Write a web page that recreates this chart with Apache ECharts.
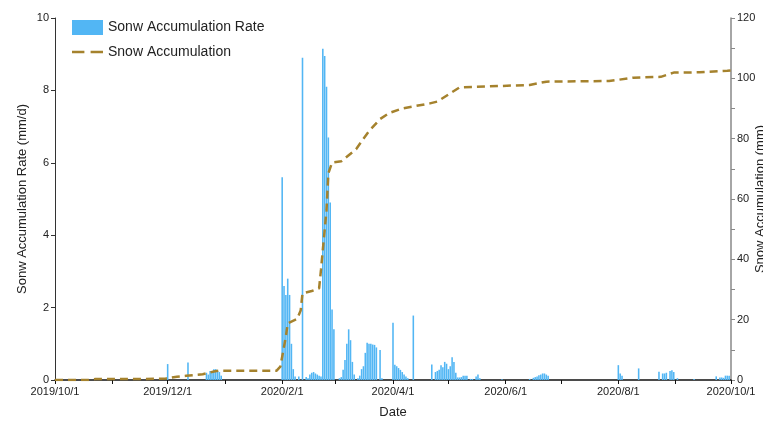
<!DOCTYPE html>
<html>
<head>
<meta charset="utf-8">
<script src="https://cdn.jsdelivr.net/npm/echarts@6/dist/echarts.min.js"></script>
<style>
  html, body { margin: 0; padding: 0; background: #fff; }
  #chart { width: 763px; height: 421px; }
</style>
</head>
<body>
<div id="chart"></div>
<script>
// days on the axis: 2019/10/1 .. 2020/10/1
const startDay = new Date(2019, 9, 1)
const endDay = new Date(2020, 9, 1)
const dates = []
for (let d = new Date(startDay); d <= endDay; d.setDate(d.getDate() + 1)) {
  dates.push(d.getFullYear() + '/' + (d.getMonth() + 1) + '/' + d.getDate())
}

const labelDates = ['2019/10/1', '2019/12/1', '2020/2/1', '2020/4/1', '2020/6/1', '2020/8/1', '2020/10/1']
const rateTicks = [0, 2, 4, 6, 8, 10]
const accTicks = [0, 20, 40, 60, 80, 100, 120]

// Sonw Accumulation Rate (mm/d), days with snow
const rateDates = [
  '2019/12/1', '2019/12/12', '2019/12/22', '2019/12/23', '2019/12/24', '2019/12/25', '2019/12/26',
  '2019/12/27', '2019/12/28', '2019/12/29', '2019/12/30',
  '2020/2/1', '2020/2/2', '2020/2/3', '2020/2/4', '2020/2/5', '2020/2/6', '2020/2/7', '2020/2/8',
  '2020/2/10', '2020/2/12', '2020/2/14', '2020/2/15', '2020/2/16', '2020/2/17', '2020/2/18',
  '2020/2/19', '2020/2/20', '2020/2/21', '2020/2/22', '2020/2/23', '2020/2/24', '2020/2/25',
  '2020/2/26', '2020/2/27', '2020/2/28', '2020/2/29',
  '2020/3/3', '2020/3/4', '2020/3/5', '2020/3/6', '2020/3/7', '2020/3/8', '2020/3/9', '2020/3/10',
  '2020/3/11', '2020/3/13', '2020/3/14', '2020/3/15', '2020/3/16', '2020/3/17', '2020/3/18',
  '2020/3/19', '2020/3/20', '2020/3/21', '2020/3/22', '2020/3/23', '2020/3/25', '2020/3/26',
  '2020/4/1', '2020/4/2', '2020/4/3', '2020/4/4', '2020/4/5', '2020/4/6', '2020/4/7', '2020/4/8',
  '2020/4/9', '2020/4/12',
  '2020/4/22', '2020/4/24', '2020/4/25', '2020/4/26', '2020/4/27', '2020/4/28', '2020/4/29',
  '2020/4/30', '2020/5/1', '2020/5/2', '2020/5/3', '2020/5/4', '2020/5/5', '2020/5/6', '2020/5/7',
  '2020/5/8', '2020/5/9', '2020/5/10', '2020/5/11', '2020/5/13', '2020/5/14', '2020/5/16',
  '2020/5/17', '2020/5/18', '2020/5/30',
  '2020/6/14', '2020/6/16', '2020/6/17', '2020/6/18', '2020/6/19', '2020/6/20', '2020/6/21',
  '2020/6/22', '2020/6/23', '2020/6/24',
  '2020/8/1', '2020/8/2', '2020/8/3', '2020/8/12', '2020/8/23', '2020/8/25', '2020/8/26',
  '2020/8/27', '2020/8/29', '2020/8/30', '2020/8/31', '2020/9/2', '2020/9/11', '2020/9/23',
  '2020/9/25', '2020/9/26', '2020/9/27', '2020/9/28', '2020/9/29', '2020/9/30'
]
const rateValues = [
  0.44, 0.48, 0.2, 0.15, 0.25, 0.22, 0.3,
  0.3, 0.25, 0.22, 0.12,
  5.6, 2.6, 2.35, 2.8, 2.35, 1.0, 0.3, 0.1,
  0.1, 8.9, 0.08, 0.05, 0.15, 0.2, 0.22,
  0.18, 0.15, 0.12, 0.1, 9.15, 8.95, 8.1,
  6.7, 4.9, 1.95, 1.4,
  0.05, 0.08, 0.28, 0.55, 1.0, 1.4, 1.1, 0.5,
  0.15, 0.05, 0.12, 0.3, 0.38, 0.75, 1.03,
  1.0, 1.0, 0.98, 0.97, 0.9, 0.83, 0.05,
  1.58, 0.42, 0.38, 0.33, 0.28, 0.22, 0.15, 0.1,
  0.05, 1.78,
  0.43, 0.22, 0.25, 0.28, 0.41, 0.35, 0.5,
  0.45, 0.3, 0.38, 0.63, 0.5, 0.2, 0.07, 0.07,
  0.08, 0.12, 0.12, 0.12, 0.03, 0.03, 0.1,
  0.15, 0.05, 0.02,
  0.03, 0.06, 0.08, 0.1, 0.13, 0.15, 0.18,
  0.18, 0.15, 0.12,
  0.41, 0.18, 0.12, 0.32, 0.23, 0.18, 0.18,
  0.2, 0.25, 0.27, 0.22, 0.05, 0.03, 0.1,
  0.07, 0.07, 0.06, 0.12, 0.12, 0.12
]

// Snow Accumulation (mm), line vertices
const accDates = [
  '2019/10/1', '2019/10/19', '2019/10/23', '2019/11/16', '2019/11/30', '2019/12/6', '2019/12/11',
  '2019/12/15', '2019/12/20', '2019/12/26', '2019/12/29', '2020/1/29', '2020/1/31', '2020/2/1',
  '2020/2/3', '2020/2/4', '2020/2/5', '2020/2/9', '2020/2/11', '2020/2/12', '2020/2/17', '2020/2/21',
  '2020/2/22', '2020/2/24', '2020/2/25', '2020/2/26', '2020/2/28', '2020/3/4', '2020/3/7',
  '2020/3/12', '2020/3/16', '2020/3/19', '2020/3/25', '2020/3/30', '2020/4/6', '2020/4/21',
  '2020/4/25', '2020/5/7', '2020/6/14', '2020/6/23', '2020/7/27', '2020/8/9', '2020/8/24',
  '2020/8/31', '2020/9/14', '2020/9/29', '2020/10/1'
]
const accValues = [
  0, 0, 0.3, 0.3, 0.5, 1.1, 1.4,
  1.6, 1.9, 2.8, 3.1, 3.1, 4.4, 7.7,
  14.4, 18.8, 19.3, 20.2, 23.0, 28.7, 29.5, 30.4,
  36.5, 49.7, 56.3, 68.5, 72.1, 72.5, 74.0,
  76.5, 80.0, 82.5, 86.5, 88.5, 90.0, 91.7,
  92.3, 97.0, 97.8, 98.9, 99.1, 100.2, 100.5,
  101.9, 102.0, 102.5, 102.6
]

const barColor = '#52b6f4'
const lineColor = '#a5822d'
const font = 'Liberation Sans, Arial, sans-serif'

const rateData = dates.map(() => 0)
rateDates.forEach((d, i) => { rateData[dates.indexOf(d)] = rateValues[i] })
const accData = accDates.map((d, i) => [dates.indexOf(d), accValues[i]])

const chart = echarts.init(document.getElementById('chart'))

const option = {
  animation: false,
  textStyle: { fontFamily: font, color: '#222' },
  grid: { left: 55, right: 32, top: 18, bottom: 41, outerBoundsMode: 'none' },
  legend: {
    orient: 'vertical',
    left: 67,
    top: 15,
    itemWidth: 31,
    itemHeight: 15,
    itemGap: 10,
    textStyle: { fontFamily: font, fontSize: 14, color: '#222' },
    data: [
      { name: 'Sonw Accumulation Rate', icon: 'rect' },
      // dashed line key
      { name: 'Snow Accumulation', icon: 'path://M0,0h12v2.6h-12zM18,0h12v2.6h-12z' }
    ]
  },
  xAxis: {
    type: 'category',
    data: dates,
    boundaryGap: false,
    name: 'Date',
    nameLocation: 'middle',
    nameGap: 26,
    nameMoveOverlap: false,
    nameTextStyle: { fontFamily: font, fontSize: 13, color: '#222' },
    axisLine: { lineStyle: { color: '#111', width: 1.5 } },
    axisTick: {
      length: 4,
      interval: (i, v) => v.split('/')[2] === '1',
      lineStyle: { color: '#111' }
    },
    axisLabel: {
      interval: (i, v) => labelDates.includes(v),
      fontFamily: font,
      fontSize: 11,
      color: '#222',
      margin: 6
    },
    splitLine: { show: false }
  },
  yAxis: [
    {
      type: 'value',
      min: rateTicks[0],
      max: rateTicks[rateTicks.length - 1],
      interval: 2,
      name: 'Sonw Accumulation Rate (mm/d)',
      nameLocation: 'middle',
      nameGap: 26,
      nameRotate: 90,
      nameMoveOverlap: false,
      nameTextStyle: { fontFamily: font, fontSize: 13, color: '#222' },
      axisLine: { show: true, lineStyle: { color: '#333', width: 1 } },
      axisTick: { show: true, length: 4, lineStyle: { color: '#333' } },
      axisLabel: { fontFamily: font, fontSize: 11, color: '#222', margin: 6 },
      splitLine: { show: false }
    },
    {
      type: 'value',
      position: 'right',
      min: accTicks[0],
      max: accTicks[accTicks.length - 1],
      interval: 20,
      name: 'Snow Accumulation (mm)',
      nameLocation: 'middle',
      nameGap: 23,
      nameRotate: 90,
      nameMoveOverlap: false,
      nameTextStyle: { fontFamily: font, fontSize: 13, color: '#222' },
      axisLine: { show: true, lineStyle: { color: '#888', width: 1.5 } },
      axisTick: { show: true, length: 4, lineStyle: { color: '#888' } },
      minorTick: { show: true, splitNumber: 2, length: 4, lineStyle: { color: '#888' } },
      axisLabel: { fontFamily: font, fontSize: 11, color: '#222', margin: 6 },
      splitLine: { show: false }
    }
  ],
  series: [
    {
      name: 'Sonw Accumulation Rate',
      type: 'bar',
      yAxisIndex: 0,
      data: rateData,
      barCategoryGap: '15%',
      itemStyle: { color: barColor }
    },
    {
      name: 'Snow Accumulation',
      type: 'line',
      yAxisIndex: 1,
      data: accData,
      showSymbol: false,
      symbol: 'none',
      z: 5,
      lineStyle: { color: lineColor, width: 2.5, type: [8, 5] },
      itemStyle: { color: lineColor }
    }
  ]
}

chart.setOption(option)
</script>
</body>
</html>
